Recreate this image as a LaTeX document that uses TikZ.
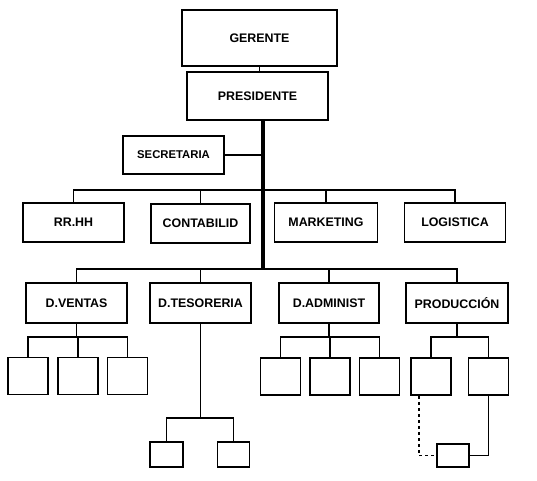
\documentclass[tikz,border=0pt]{standalone}
\usepackage{fontspec}
\setmainfont{Liberation Sans}
\usepackage{tikz}
\tikzstyle{box} = [draw,line width=1.6pt,inner sep=0pt,font=\bfseries\fontsize{12.4}{14}\selectfont]
\tikzstyle{small} = [draw,line width=1.6pt,minimum width=40pt,minimum height=37pt]
\tikzstyle{link} = [line width=1.5pt]
\tikzstyle{trunk} = [line width=3.5pt]

\begin{document}
\begin{tikzpicture}[x=1pt,y=-1pt]
          \useasboundingbox (0,0) rectangle (537,480);
          % top
          \node[box, minimum width=155pt, minimum height=56pt] at (259.5,38) (GER) {GERENTE};
          \node[box, minimum width=141pt, minimum height=48pt] at (257.5,96) (PRES) {PRESIDENTE};
          \node[box, minimum width=101pt, minimum height=38pt, font=\fontsize{11.3}{13}\selectfont\bfseries] at (173.5,155) (SEC) {SECRETARIA};
          \coordinate (hub) at (263,155);
          \coordinate (bus1) at (263,190);
          \coordinate (bus2) at (263,269);

          % first row
          \node[box, minimum width=101pt, minimum height=39pt] at (73.5,222.5) (RRHH) {RR.HH};
          \node[box, minimum width=99pt, minimum height=39pt] at (200.5,223.5) (CONT) {CONTABILID};
          \node[box, minimum width=103pt, minimum height=39pt] at (326,222.5) (MKT) {MARKETING};
          \node[box, minimum width=101pt, minimum height=39pt] at (455,222.5) (LOG) {LOGISTICA};

          % second row
          \node[box, minimum width=101pt, minimum height=40pt] at (76.5,303) (VEN) {D.VENTAS};
          \node[box, minimum width=101pt, minimum height=40pt] at (200.5,303) (TES) {D.TESORERIA};
          \node[box, minimum width=100pt, minimum height=40pt] at (329,303) (ADM) {D.ADMINIST};
          \node[box, minimum width=102pt, minimum height=40pt] at (457,303) (PROD) {PRODUCCIÓN};

          % empty boxes
          \node[small] at (28,376) (V1) {};
          \node[small] at (78,376) (V2) {};
          \node[small] at (127.5,376) (V3) {};
          \node[small] at (280.5,376.5) (A1) {};
          \node[small] at (330,376.5) (A2) {};
          \node[small] at (379.5,376.5) (A3) {};
          \node[small] at (431,376.5) (P1) {};
          \node[small] at (488.5,376.5) (P2) {};
          \node[small, minimum width=33pt, minimum height=25pt] at (166.5,454.5) (T1) {};
          \node[small, minimum width=32pt, minimum height=25pt] at (233.5,454.5) (T2) {};
          \node[small, minimum width=32pt, minimum height=23pt] at (453,455.5) (P3) {};

          \draw[link] (GER.south) -- (GER.south |- PRES.north);
          \draw[trunk] (PRES.south -| bus2) -- (bus2);
          \draw[link] (SEC.east) -- (hub);

          \draw[link] (RRHH.north) |- (bus1) -| (LOG.north);
          \draw[link] (CONT.north) -- (CONT.north |- bus1);
          \draw[link] (MKT.north) -- (MKT.north |- bus1);

          \draw[link] (VEN.north) |- (bus2) -| (PROD.north);
          \draw[link] (TES.north) -- (TES.north |- bus2);
          \draw[link] (ADM.north) -- (ADM.north |- bus2);

          \draw[link] (VEN.south) -- ++(0,13) coordinate (vbus);
          \draw[link] (V1.north) |- (vbus) -| (V3.north);
          \draw[link] (V2.north) -- (V2.north |- vbus);

          \draw[link] (TES.south) -- ++(0,94) coordinate (tbus);
          \draw[link] (T1.north) |- (tbus) -| (T2.north);

          \draw[link] (ADM.south) -- ++(0,13) coordinate (abus);
          \draw[link] (A1.north) |- (abus) -| (A3.north);
          \draw[link] (A2.north) -- (A2.north |- abus);

          \draw[link] (PROD.south) -- ++(0,13) coordinate (pbus);
          \draw[link] (P1.north) |- (pbus) -| (P2.north);
          \draw[link, dashed] ([xshift=-12pt]P1.south) |- (P3.west);
          \draw[link] (P2.south) |- (P3.east);
        \end{tikzpicture}
\end{document}
